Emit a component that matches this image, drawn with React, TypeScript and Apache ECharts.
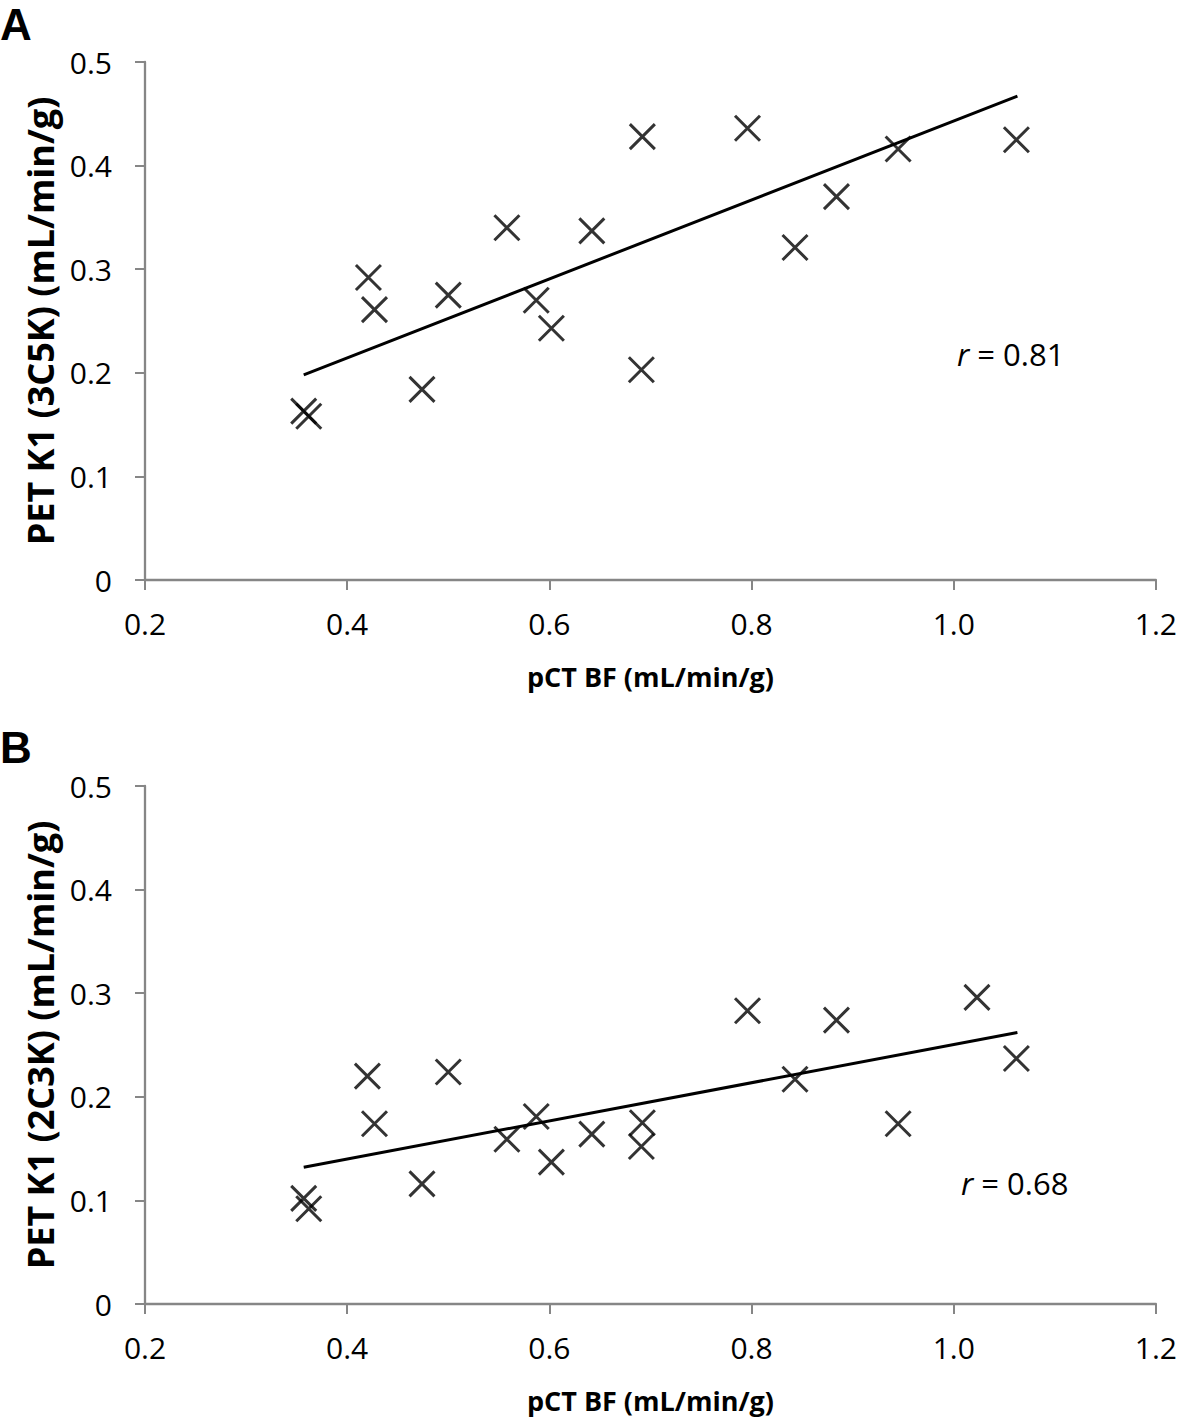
import React, { useEffect, useRef } from "react";
import * as echarts from "echarts";

// Panel A: PET K1 (3C5K) vs pCT BF
const xA = [0.357, 0.362, 0.421, 0.427, 0.474, 0.5, 0.558, 0.587, 0.602, 0.642, 0.691, 0.692, 0.796, 0.843, 0.884, 0.945, 1.062];
const yA = [0.163, 0.158, 0.292, 0.261, 0.184, 0.275, 0.34, 0.27, 0.243, 0.337, 0.203, 0.428, 0.436, 0.321, 0.37, 0.416, 0.425];
// Panel B: PET K1 (2C3K) vs pCT BF
const xB = [0.357, 0.362, 0.42, 0.427, 0.474, 0.5, 0.558, 0.587, 0.602, 0.642, 0.691, 0.692, 0.796, 0.843, 0.884, 0.945, 1.023, 1.062];
const yB = [0.102, 0.092, 0.22, 0.174, 0.116, 0.224, 0.159, 0.181, 0.137, 0.164, 0.152, 0.175, 0.283, 0.217, 0.274, 0.174, 0.296, 0.237];

// Trend line end points
const trendX = [0.357, 1.063];
const trendYA = [0.198, 0.467];
const trendYB = [0.132, 0.262];

const xTitle = "pCT BF (mL/min/g)";
const yTitleA = "PET K1 (3C5K) (mL/min/g)";
const yTitleB = "PET K1 (2C3K) (mL/min/g)";
const rA = "0.81";
const rB = "0.68";

const FONT = "'Open Sans', 'Liberation Sans', sans-serif";
const AXIS_GRAY = "#868686";
const X_SYMBOL = "path://M0,0L20,20M20,0L0,20";

function makeX(gridIndex: number) {
  return {
    type: "value",
    gridIndex,
    min: 0.2,
    max: 1.2,
    interval: 0.2,
    axisLine: { show: true, onZero: false, lineStyle: { color: AXIS_GRAY, width: 2.3 } },
    axisTick: { show: true, length: 10, lineStyle: { color: AXIS_GRAY, width: 2 } },
    splitLine: { show: false },
    axisLabel: {
      formatter: (v: number) => v.toFixed(1),
      fontSize: 30,
      color: "#000",
      fontFamily: FONT,
      margin: 28,
    },
    name: xTitle,
    nameLocation: "middle",
    nameGap: 83,
    nameTextStyle: { fontSize: 27, fontWeight: "bold", color: "#000", fontFamily: FONT },
  };
}

function makeY(gridIndex: number, title: string) {
  return {
    type: "value",
    gridIndex,
    min: 0,
    max: 0.5,
    interval: 0.1,
    axisLine: { show: true, onZero: false, lineStyle: { color: AXIS_GRAY, width: 2.3 } },
    axisTick: { show: true, length: 10, lineStyle: { color: AXIS_GRAY, width: 2 } },
    splitLine: { show: false },
    axisLabel: {
      formatter: (v: number) => (v === 0 ? "0" : v.toFixed(1)),
      fontSize: 30,
      color: "#000",
      fontFamily: FONT,
      margin: 33,
    },
    name: title,
    nameLocation: "middle",
    nameGap: 86,
    nameTextStyle: { fontSize: 36, fontWeight: "bold", color: "#000", fontFamily: FONT },
  };
}

function scatter(xs: number[], ys: number[], idx: number) {
  return {
    type: "scatter",
    xAxisIndex: idx,
    yAxisIndex: idx,
    symbol: X_SYMBOL,
    symbolSize: 25,
    itemStyle: { color: "transparent", borderColor: "#000", borderWidth: 3 },
    data: xs.map((x, i) => [x, ys[i]]),
    z: 3,
  };
}

function trend(ys: number[], idx: number) {
  return {
    type: "line",
    xAxisIndex: idx,
    yAxisIndex: idx,
    showSymbol: false,
    symbol: "none",
    lineStyle: { color: "#000", width: 3 },
    data: trendX.map((x, i) => [x, ys[i]]),
    z: 2,
  };
}

export default function App() {
  const ref = useRef<HTMLDivElement>(null);
  useEffect(() => {
    document.body.style.margin = "0";
    if (!ref.current) return;
    const chart = echarts.init(ref.current, null, { renderer: "svg" });
    chart.setOption({
      animation: false,
      backgroundColor: "#fff",
      grid: [
        { left: 145, top: 62, width: 1015, height: 518 },
        { left: 145, top: 786, width: 1015, height: 518 },
      ],
      xAxis: [makeX(0), makeX(1)],
      yAxis: [makeY(0, yTitleA), makeY(1, yTitleB)],
      series: [scatter(xA, yA, 0), trend(trendYA, 0), scatter(xB, yB, 1), trend(trendYB, 1)],
      graphic: [
        {
          type: "text",
          left: 0,
          top: 2,
          style: { text: "A", font: "bold 44px 'Liberation Sans', Arial, sans-serif", fill: "#000" },
        },
        {
          type: "text",
          left: 0,
          top: 725,
          style: { text: "B", font: "bold 44px 'Liberation Sans', Arial, sans-serif", fill: "#000" },
        },
        {
          type: "text",
          x: 957,
          y: 354,
          style: {
            text: "{i|r} = " + rA,
            fill: "#000",
            fontSize: 31,
            fontFamily: FONT,
            verticalAlign: "middle",
            rich: { i: { fontStyle: "italic", fontSize: 31, fontFamily: FONT } },
          },
        },
        {
          type: "text",
          x: 961,
          y: 1183,
          style: {
            text: "{i|r} = " + rB,
            fill: "#000",
            fontSize: 31,
            fontFamily: FONT,
            verticalAlign: "middle",
            rich: { i: { fontStyle: "italic", fontSize: 31, fontFamily: FONT } },
          },
        },
      ],
    });
    return () => chart.dispose();
  }, []);
  return <div ref={ref} style={{ width: 1180, height: 1418 }} />;
}
